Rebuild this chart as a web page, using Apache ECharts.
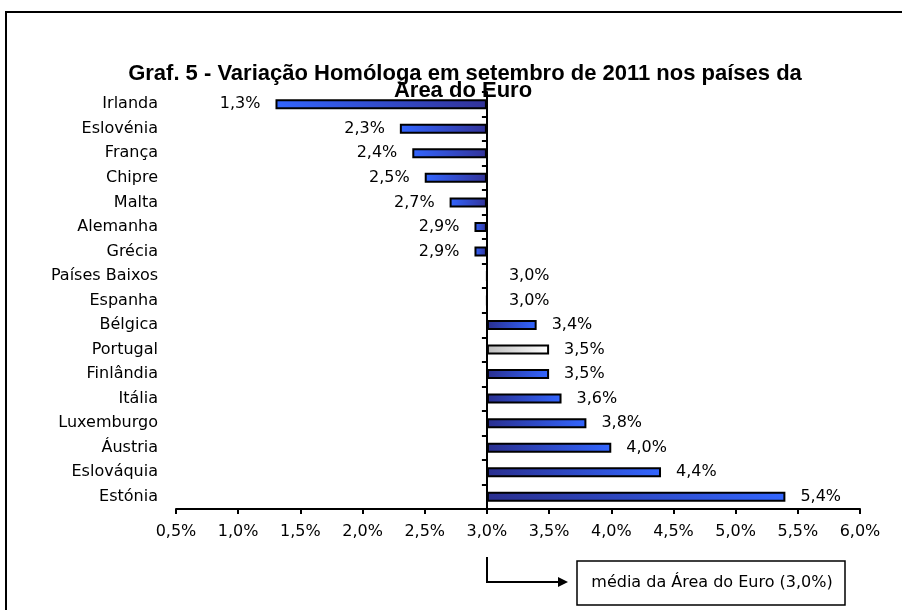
<!DOCTYPE html>
<html>
<head>
<meta charset="utf-8">
<script src="https://cdn.jsdelivr.net/npm/echarts@6/dist/echarts.min.js"></script>
<style>
html,body{margin:0;padding:0;background:#fff;}
#chart_1{width:902px;height:610px;}
</style>
</head>
<body>
<div id="chart_1"></div>
<script>
// dados
var paises = ['Irlanda','Eslovénia','França','Chipre','Malta','Alemanha','Grécia','Países Baixos','Espanha',
    'Bélgica','Portugal','Finlândia','Itália','Luxemburgo','Áustria','Eslováquia','Estónia'];
var variacao = [1.3, 2.3, 2.4, 2.5, 2.7, 2.9, 2.9, 3.0, 3.0, 3.4, 3.5, 3.5, 3.6, 3.8, 4.0, 4.4, 5.4];
var mediaEuro = 3.0;
var eixoMin = 0.5, eixoMax = 6.0, eixoPasso = 0.5;

function pct(v){
    return v.toFixed(1).replace('.', ',') + '%';
}

// grelha
var gLeft = 176, gRight = 42, gTop = 92, gBottom = 101;
var largura = 902 - gLeft - gRight;
var xMedia = gLeft + (mediaEuro - eixoMin) / (eixoMax - eixoMin) * largura;

var base = [], barras = [];
for (var i = 0; i < variacao.length; i++) {
    var v = variacao[i];
    base.push(Math.min(v, mediaEuro));
    var cores;
    if (paises[i] == 'Portugal') {
        cores = [{offset:0, color:'#bdbdbd'}, {offset:1, color:'#ffffff'}];
    } else if (v < mediaEuro) {
        cores = [{offset:0, color:'#3366ff'}, {offset:1, color:'#333399'}];
    } else {
        cores = [{offset:0, color:'#2a2f8f'}, {offset:1, color:'#3366ff'}];
    }
    barras.push({
        value: Math.abs(v - mediaEuro),
        itemStyle: {color: new echarts.graphic.LinearGradient(0, 0, 1, 0, cores)},
        label: {position: v < mediaEuro ? 'left' : 'right', distance: v == mediaEuro ? 21 : 15}
    });
}

var fonte = '"DejaVu Sans", Verdana, sans-serif';
var fonteTitulo = 'bold 22px "Liberation Sans", Arial, sans-serif';

var option = {
    animation: false,
    grid: {left: gLeft, right: gRight, top: gTop, bottom: gBottom, containLabel: false},
    xAxis: {
        type: 'value',
        min: eixoMin, max: eixoMax, interval: eixoPasso,
        splitLine: {show: false},
        axisLine: {show: true, lineStyle: {color: '#000', width: 2}},
        axisTick: {show: true, length: 5, lineStyle: {color: '#000', width: 2}},
        axisLabel: {color: '#000', fontSize: 16, fontFamily: fonte, margin: 15, formatter: pct}
    },
    yAxis: [
        {
            type: 'category', inverse: true, data: paises,
            axisLine: {show: false}, axisTick: {show: false},
            axisLabel: {color: '#000', fontSize: 16, fontFamily: fonte, margin: 18}
        },
        {
            // linha vertical na média (3,0%)
            type: 'category', inverse: true, data: paises,
            position: 'left', offset: -(xMedia - gLeft),
            axisLine: {show: true, onZero: false, lineStyle: {color: '#000', width: 2}},
            axisTick: {show: true, length: 5, lineStyle: {color: '#000', width: 2}},
            axisLabel: {show: false}
        }
    ],
    series: [
        {
            type: 'bar', stack: 'v', yAxisIndex: 0, silent: true,
            barWidth: 10,
            itemStyle: {color: 'rgba(0,0,0,0)'},
            data: base
        },
        {
            type: 'bar', stack: 'v', yAxisIndex: 0,
            barWidth: 10,
            itemStyle: {borderColor: '#000', borderWidth: 2},
            label: {
                show: true, color: '#000', fontSize: 16, fontFamily: fonte,
                formatter: function(p){ return pct(variacao[p.dataIndex]); }
            },
            data: barras
        }
    ],
    graphic: [
        {type: 'rect', shape: {x: 6, y: 12, width: 1000, height: 700},
         style: {fill: 'none', stroke: '#000', lineWidth: 2}},
        {type: 'text', x: 465, y: 74,
         style: {text: 'Graf. 5 - Variação Homóloga em setembro de 2011 nos países da', textAlign: 'center', textVerticalAlign: 'middle',
                 font: fonteTitulo, fill: '#000'}},
        {type: 'text', x: 463, y: 91,
         style: {text: 'Área do Euro', textAlign: 'center', textVerticalAlign: 'middle',
                 font: fonteTitulo, fill: '#000'}},
        {type: 'polyline', shape: {points: [[Math.round(xMedia), 557], [Math.round(xMedia), 582], [559, 582]]},
         style: {stroke: '#000', lineWidth: 2, fill: 'none'}},
        {type: 'polygon', shape: {points: [[558, 577], [568, 582], [558, 587]]},
         style: {fill: '#000'}},
        {type: 'rect', shape: {x: 577, y: 561, width: 268, height: 44},
         style: {fill: '#fff', stroke: '#000', lineWidth: 1.5}},
        {type: 'text', x: 712, y: 583,
         style: {text: 'média da Área do Euro (3,0%)', textAlign: 'center', textVerticalAlign: 'middle',
                 font: '16px "DejaVu Sans", Verdana, sans-serif', fill: '#000'}}
    ]
};

var myChart1 = echarts.init(document.getElementById('chart_1'));
myChart1.setOption(option);
</script>
</body>
</html>
